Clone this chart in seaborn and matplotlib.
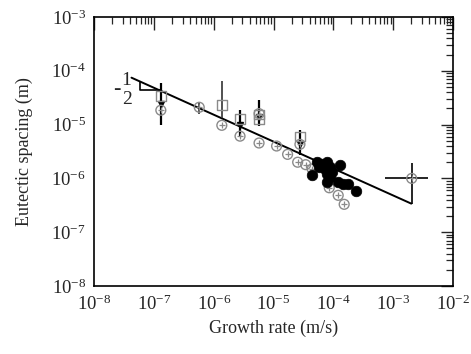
import numpy as np
import pandas as pd
import matplotlib
matplotlib.use("Agg")
import matplotlib.pyplot as plt
import seaborn as sns
from matplotlib.ticker import LogLocator, NullFormatter

# --- data (growth rate in m/s, spacing in m) ---
sq_v = [1.3e-7, 1.36e-6, 2.74e-6, 5.7e-6, 5.7e-6, 2.75e-5]
sq_lam = [3.4e-5, 2.3e-5, 1.26e-5, 1.55e-5, 1.25e-5, 6.0e-6]

circ_v = [1.3e-7, 5.7e-7, 1.36e-6, 2.74e-6, 5.7e-6, 5.7e-6, 1.12e-5, 1.71e-5,
          2.52e-5, 2.75e-5, 3.43e-5, 4.4e-5, 8.5e-5, 1.2e-4, 1.51e-4, 2.03e-3]
circ_lam = [1.85e-5, 2.1e-5, 9.7e-6, 6.1e-6, 4.55e-6, 1.6e-5, 4.0e-6, 2.8e-6,
            2.0e-6, 4.3e-6, 1.8e-6, 1.5e-6, 6.7e-7, 4.85e-7, 3.3e-7, 1.0e-6]

dot_v = [5.24e-5, 6.35e-5, 4.32e-5, 7.69e-5, 7.21e-5, 8.75e-5, 9.33e-5, 7.69e-5,
         8.75e-5, 7.69e-5, 1.29e-4, 1.20e-4, 1.46e-4, 1.77e-4, 2.38e-4, 5.79e-5]
dot_lam = [2.02e-6, 1.88e-6, 1.14e-6, 2.02e-6, 1.52e-6, 1.63e-6, 1.32e-6, 1.23e-6,
           1.06e-6, 8.6e-7, 1.75e-6, 8.6e-7, 8.0e-7, 8.0e-7, 5.8e-7, 1.63e-6]

# black marks with vertical error bars
bar_v = [1.3e-7, 2.74e-6, 5.7e-6, 2.75e-5]
bar_lam = [2.45e-5, 9.7e-6, 1.36e-5, 4.4e-6]
bar_lo = [1.0e-5, 5.8e-6, 9.3e-6, 2.7e-6]
bar_hi = [5.9e-5, 1.84e-5, 2.83e-5, 7.8e-6]

# grey error bars on single points
gbar_v = [5.7e-7, 1.36e-6]
gbar_lam = [2.1e-5, 2.3e-5]
gbar_lo = [1.6e-5, 1.3e-5]
gbar_hi = [2.6e-5, 6.4e-5]

# high-rate point with both error bars
hp_v, hp_lam = 2.03e-3, 1.0e-6
hp_vlo, hp_vhi = 7.2e-4, 3.8e-3
hp_lo, hp_hi = 3.3e-7, 1.9e-6

# lambda ~ V^-1/2 line end points
fit_v = [4.2e-8, 2.0e-3]
fit_lam = [7.45e-5, 3.4e-7]

# slope triangle corners
tri_v = [5.8e-8, 5.8e-8, 1.33e-7]
tri_lam = [6.3e-5, 4.46e-5, 4.46e-5]

sns.set_style("white")
plt.rcParams["font.family"] = ["Liberation Serif", "DejaVu Serif"]
plt.rcParams["mathtext.fontset"] = "stix"

fig = plt.figure(figsize=(4.71, 3.54), dpi=100)
ax = fig.add_axes([0.2, 0.192, 0.762, 0.760])
grey = "#8a8a8a"

sns.lineplot(x=fit_v, y=fit_lam, ax=ax, color="black", lw=1.4, zorder=3)
ax.plot(tri_v, tri_lam, color="black", lw=1.2, zorder=3)

# error bars
ax.errorbar(bar_v, bar_lam,
            yerr=[np.array(bar_lam) - np.array(bar_lo), np.array(bar_hi) - np.array(bar_lam)],
            fmt="v", ms=4, color="black", ecolor="black", elinewidth=1.6, capsize=0, zorder=4)
ax.errorbar(gbar_v, gbar_lam,
            yerr=[np.array(gbar_lam) - np.array(gbar_lo), np.array(gbar_hi) - np.array(gbar_lam)],
            fmt="none", ecolor="#333333", elinewidth=1.2, capsize=0, zorder=4)
ax.errorbar([hp_v], [hp_lam], xerr=[[hp_v - hp_vlo], [hp_vhi - hp_v]],
            yerr=[[hp_lam - hp_lo], [hp_hi - hp_lam]],
            fmt="none", ecolor="black", elinewidth=1.2, capsize=0, zorder=4)

sns.scatterplot(x=sq_v, y=sq_lam, ax=ax, marker="s", s=48, facecolor="none",
                edgecolor=grey, linewidth=1.0, zorder=5)
sns.scatterplot(x=circ_v, y=circ_lam, ax=ax, marker="o", s=50, facecolor="none",
                edgecolor=grey, linewidth=1.0, zorder=5)
sns.scatterplot(x=circ_v, y=circ_lam, ax=ax, marker="+", s=14, color=grey,
                linewidth=0.9, zorder=5)
sns.scatterplot(x=dot_v, y=dot_lam, ax=ax, marker="o", s=58, color="black",
                edgecolor="black", linewidth=0.5, zorder=6)

# slope label "-1/2"
ax.text(2.37e-8, 4.48e-5, "-", fontsize=16, ha="center", va="center")
ax.text(3.48e-8, 6.6e-5, "1", fontsize=14, ha="center", va="center")
ax.text(3.48e-8, 2.95e-5, "2", fontsize=14, ha="center", va="center")

ax.set_xscale("log")
ax.set_yscale("log")
ax.set_xlim(1e-8, 1e-2)
ax.set_ylim(1e-8, 1e-3)
for axis in (ax.xaxis, ax.yaxis):
    axis.set_major_locator(LogLocator(base=10, numticks=10))
    axis.set_minor_locator(LogLocator(base=10, subs=np.arange(2, 10), numticks=10))
    axis.set_minor_formatter(NullFormatter())
ax.tick_params(which="major", direction="in", length=9, width=1.0,
               top=True, right=True, labelsize=13.5, pad=6)
ax.tick_params(which="minor", direction="in", length=5, width=0.9,
               top=True, right=True)
for sp in ax.spines.values():
    sp.set_linewidth(1.2)
    sp.set_color("black")

ax.set_xlabel("Growth rate (m/s)", fontsize=13)
ax.set_ylabel("Eutectic spacing (m)", fontsize=13, labelpad=13)

fig.savefig("out.png", dpi=100)
